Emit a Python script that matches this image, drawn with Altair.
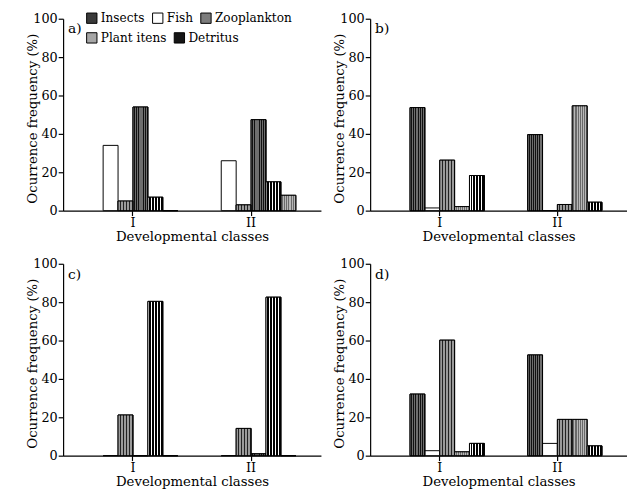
import altair as alt
import pandas as pd

classes = ["I", "II"]
items = ["Insects", "Fish", "Zooplankton", "Plant itens", "Detritus"]
row1_items = ["Insects", "Fish", "Zooplankton"]
row2_items = ["Plant itens", "Detritus"]

# panel a
a_insects = [54, 47.4]
a_fish = [34, 26]
a_zoo = [5, 3]
a_plant = [0, 8]
a_detritus = [7, 15]
# panel b
b_insects = [53.7, 39.6]
b_fish = [1.4, 0]
b_zoo = [26.3, 3.2]
b_plant = [2.1, 54.6]
b_detritus = [18.3, 4.4]
# panel c
c_insects = [0, 1]
c_fish = [0, 0]
c_zoo = [21.2, 14.2]
c_plant = [0, 0]
c_detritus = [80.4, 82.6]
# panel d
d_insects = [32.1, 52.5]
d_fish = [2.6, 6.4]
d_zoo = [60.2, 18.9]
d_plant = [2.0, 18.9]
d_detritus = [6.4, 5.1]

order_ac = ["Fish", "Zooplankton", "Insects", "Detritus", "Plant itens"]
order_bd = ["Insects", "Fish", "Zooplankton", "Plant itens", "Detritus"]

FONT = "DejaVu Serif"
solid1 = ["#3a3a3a", "#ffffff", "#7c7c7c"]
solid2 = ["#a6a6a6", "#161616"]


def stripes(c1, c2, n, frac):
    stops = []
    for i in range(n):
        o = i / n
        stops.append(alt.GradientStop(offset=o, color=c1))
        stops.append(alt.GradientStop(offset=o + frac / n, color=c1))
        stops.append(alt.GradientStop(offset=o + frac / n, color=c2))
        stops.append(alt.GradientStop(offset=(i + 1) / n, color=c2))
    return alt.LinearGradient(gradient="linear", x1=0, y1=0, x2=1, y2=0, stops=stops)


patterns = {
    "Insects": stripes("#6e6e6e", "#111111", 7, 0.55),
    "Zooplankton": stripes("#9a9a9a", "#222222", 5, 0.7),
    "Plant itens": stripes("#b8b8b8", "#6a6a6a", 7, 0.5),
    "Detritus": stripes("#ffffff", "#000000", 5, 0.35),
}


def legend(ly):
    return alt.Legend(title=None, orient="none", legendX=23, legendY=ly,
                      direction="horizontal", symbolType="square",
                      symbolSize=110, symbolStrokeColor="black",
                      symbolStrokeWidth=1, labelFont=FONT, labelFontSize=12.3,
                      labelColor="black", columnPadding=5,
                      labelOffset=3, symbolOpacity=1)


def make_panel(label, ins, fis, zoo, pla, det, order, w):
    vals = {"Insects": ins, "Fish": fis, "Zooplankton": zoo, "Plant itens": pla, "Detritus": det}
    rows = []
    for it in items:
        for k, cl in enumerate(classes):
            rows.append({"cls": cl, "item": it, "value": vals[it][k]})
    df = pd.DataFrame(rows)
    base = alt.Chart(df).encode(
        x=alt.X("cls:N", sort=classes,
                scale=alt.Scale(paddingInner=0.242, paddingOuter=0.2125),
                axis=alt.Axis(title="Developmental classes", labelAngle=0)),
        xOffset=alt.XOffset("item:N",
                            scale=alt.Scale(domain=["_"] + order, paddingInner=0, paddingOuter=0)),
        y=alt.Y("value:Q", scale=alt.Scale(domain=[0, 100]),
                axis=alt.Axis(title="Ocurrence frequency (%)", values=[0, 20, 40, 60, 80, 100],
                              titleX=-24, titleY=101)),
    )
    bars1 = base.transform_filter(alt.FieldOneOfPredicate(field="item", oneOf=row1_items)).mark_bar(
        stroke="black", strokeWidth=1
    ).encode(color=alt.Color("item:N", scale=alt.Scale(domain=row1_items, range=solid1),
                             legend=legend(-7)))
    bars2 = base.transform_filter(alt.FieldOneOfPredicate(field="item", oneOf=row2_items)).mark_bar(
        stroke="black", strokeWidth=1
    ).encode(fill=alt.Fill("item:N", scale=alt.Scale(domain=row2_items, range=solid2),
                           legend=legend(13)))
    layers = [bars1, bars2]
    for it, g in patterns.items():
        layers.append(
            base.transform_filter(alt.datum.item == it)
            .mark_bar(fill=g, stroke="black", strokeWidth=1)
        )
    lab = alt.Chart(pd.DataFrame({"t": [label]})).mark_text(
        align="left", baseline="top", font=FONT, fontSize=14, color="black"
    ).encode(x=alt.value(5), y=alt.value(4), text="t:N")
    layers.append(lab)
    return alt.layer(*layers).properties(width=w, height=195)


pa = make_panel("a)", a_insects, a_fish, a_zoo, a_plant, a_detritus, order_ac, 262)
pb = make_panel("b)", b_insects, b_fish, b_zoo, b_plant, b_detritus, order_bd, 261)
pc = make_panel("c)", c_insects, c_fish, c_zoo, c_plant, c_detritus, order_ac, 262)
pd_ = make_panel("d)", d_insects, d_fish, d_zoo, d_plant, d_detritus, order_bd, 261)

chart = alt.concat(pa, pb, pc, pd_, columns=2, spacing=alt.RowColnumber(row=15, column=12)).resolve_scale(
    xOffset="independent"
).properties(
    padding={"left": 18, "top": 0, "right": 0, "bottom": 0}, background="white"
).configure_view(stroke=None).configure_axis(
    domainColor="black", tickColor="black", labelColor="black", titleColor="black",
    labelFont=FONT, titleFont=FONT, labelFontSize=13, titleFontSize=13.5,
    titleFontWeight="normal", grid=False, tickSize=5, labelPadding=1, titlePadding=0,
    domainWidth=1.2, tickWidth=1.2
)

chart.save("out.html", embed_options={"renderer": "svg", "actions": False})
